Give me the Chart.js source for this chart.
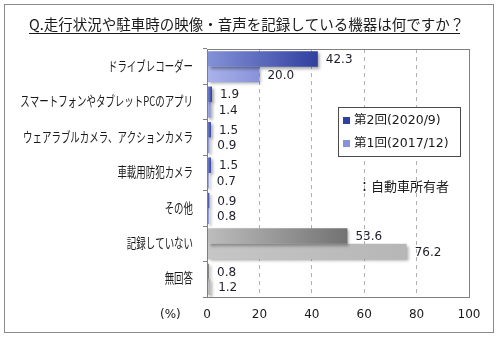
<!DOCTYPE html>
<html>
<head>
<meta charset="utf-8">
<script src="https://cdn.jsdelivr.net/npm/chart.js@4.4.1/dist/chart.umd.min.js"></script>
<style>
  html, body { margin: 0; padding: 0; background: #fff; }
  #wrap { width: 500px; height: 340px; }
</style>
</head>
<body>
<div id="wrap"><canvas id="recChart" width="500" height="340"></canvas></div>
<script>
const categories = [
  'ドライブレコーダー',
  'スマートフォンやタブレットPCのアプリ',
  'ウェアラブルカメラ、アクションカメラ',
  '車載用防犯カメラ',
  'その他',
  '記録していない',
  '無回答'
];
const round2 = [42.3, 1.9, 1.5, 1.5, 0.9, 53.6, 0.8];
const round1 = [20.0, 1.4, 0.9, 0.7, 0.8, 76.2, 1.2];
const seriesNames = ['第2回(2020/9)', '第1回(2017/12)'];
const xTicks = [0, 20, 40, 60, 80, 100];
const titleText = 'Q.走行状況や駐車時の映像・音声を記録している機器は何ですか？';
const noteText = '：自動車所有者';
const unitText = '(%)';

const JP = "'Noto Sans CJK JP', sans-serif";
const NUM = "'DejaVu Sans', 'Noto Sans CJK JP', sans-serif";

// "not recording" and "no answer" rows are shown in grey
const greyRows = ['記録していない', '無回答'];
const blueDark = ['#8492d8', '#30409e'];
const blueLight = ['#aab3ea', '#8892da'];
const greyDark = ['#bdbdbd', '#727272'];
const greyLight = ['#c6c6c6', '#b6b6b6'];

function barFill(context, blue, grey) {
  const chart = context.chart;
  const stops = greyRows.includes(categories[context.dataIndex]) ? grey : blue;
  if (!chart.chartArea) return stops[1];
  const x = chart.scales.x;
  const x0 = x.getPixelForValue(0);
  const x1 = Math.max(x.getPixelForValue(context.raw), x0 + 1);
  const g = chart.ctx.createLinearGradient(x0, 0, x1, 0);
  g.addColorStop(0, stops[0]);
  g.addColorStop(1, stops[1]);
  return g;
}

const decor = {
  id: 'decor',
  beforeDatasetsDraw(chart) {
    const ctx = chart.ctx;
    ctx.save();
    ctx.shadowColor = 'rgba(0,0,0,0.35)';
    ctx.shadowOffsetX = 2;
    ctx.shadowOffsetY = 2;
    ctx.shadowBlur = 3;
  },
  afterDatasetsDraw(chart) {
    const ctx = chart.ctx;
    ctx.restore();

    // value labels at the end of each bar
    ctx.save();
    ctx.font = '12px ' + NUM;
    ctx.fillStyle = '#1e1e2a';
    ctx.textAlign = 'left';
    ctx.textBaseline = 'middle';
    chart.data.datasets.forEach((ds, di) => {
      chart.getDatasetMeta(di).data.forEach((bar, i) => {
        ctx.fillText(ds.data[i].toFixed(1), bar.x + 8, bar.y + 1);
      });
    });
    ctx.restore();
  },
  afterDraw(chart) {
    const ctx = chart.ctx;
    const area = chart.chartArea;
    const y = chart.scales.y;
    ctx.save();

    // plot frame
    ctx.strokeStyle = '#808080';
    ctx.lineWidth = 1;
    ctx.strokeRect(Math.round(area.left) + 0.5, Math.round(area.top) + 0.5,
      Math.round(area.right - area.left), Math.round(area.bottom - area.top));

    // outer frame
    ctx.strokeStyle = '#8a8a8a';
    ctx.strokeRect(4.5, 4.5, 489, 328);

    // title with underline
    ctx.fillStyle = '#1a1a1a';
    ctx.font = '14.5px ' + JP;
    ctx.textAlign = 'left';
    ctx.textBaseline = 'alphabetic';
    ctx.fillText(titleText, 29, 30);
    const tw = ctx.measureText(titleText).width;
    ctx.strokeStyle = '#1a1a1a';
    ctx.beginPath();
    ctx.moveTo(29, 33.5);
    ctx.lineTo(Math.min(29 + tw, 460), 33.5);
    ctx.stroke();

    // category labels, set narrow like the original face
    ctx.font = '13.5px ' + JP;
    ctx.fillStyle = '#1a1a1a';
    ctx.textAlign = 'right';
    ctx.textBaseline = 'middle';
    categories.forEach((c, i) => {
      ctx.save();
      ctx.translate(area.left - 14, y.getPixelForValue(i) - 1);
      ctx.scale(0.7, 1);
      ctx.fillText(c, 0, 0);
      ctx.restore();
    });

    // legend
    const lx = 338, ly = 107, lw = 122, lh = 49;
    ctx.fillStyle = '#fff';
    ctx.fillRect(lx, ly, lw, lh);
    ctx.strokeStyle = '#4a4a4a';
    ctx.strokeRect(lx + 0.5, ly + 0.5, lw, lh);
    ctx.font = '12.5px ' + NUM;
    ctx.textAlign = 'left';
    const marks = [blueDark[1], blueLight[1]];
    seriesNames.forEach((n, i) => {
      const cy = ly + 13 + i * 23;
      ctx.fillStyle = marks[i];
      ctx.fillRect(lx + 5, cy - 3, 7, 7);
      ctx.fillStyle = '#1a1a1a';
      ctx.fillText(n, lx + 16, cy + 1);
    });

    // respondent note and unit
    ctx.font = '13px ' + JP;
    ctx.fillText(noteText, 358, 186);
    ctx.font = '12px ' + NUM;
    ctx.fillText(unitText, 160, 315);

    ctx.restore();
  }
};

new Chart(document.getElementById('recChart'), {
  type: 'bar',
  data: {
    labels: categories,
    datasets: [
      {
        label: seriesNames[0],
        data: round2,
        backgroundColor: c => barFill(c, blueDark, greyDark),
        categoryPercentage: 0.88,
        barPercentage: 1.0
      },
      {
        label: seriesNames[1],
        data: round1,
        backgroundColor: c => barFill(c, blueLight, greyLight),
        categoryPercentage: 0.88,
        barPercentage: 1.0
      }
    ]
  },
  options: {
    indexAxis: 'y',
    responsive: false,
    animation: false,
    events: [],
    layout: { padding: { top: 49, right: 31, left: 0, bottom: 0 } },
    scales: {
      x: {
        min: 0,
        max: 100,
        afterBuildTicks: s => { s.ticks = xTicks.map(v => ({ value: v })); },
        afterFit: s => { s.height = 43; },
        ticks: {
          padding: 11,
          color: '#1a1a1a',
          font: { family: NUM, size: 12 }
        },
        grid: { color: '#b0b0b0', drawTicks: false },
        border: { display: false, dash: [4, 4] }
      },
      y: {
        afterFit: s => { s.width = 207; },
        ticks: { display: false },
        grid: { drawOnChartArea: false, tickLength: 4, color: '#808080' },
        border: { display: true, color: '#808080' }
      }
    },
    plugins: {
      legend: { display: false },
      title: { display: false },
      tooltip: { enabled: false }
    }
  },
  plugins: [decor]
});
</script>
</body>
</html>
